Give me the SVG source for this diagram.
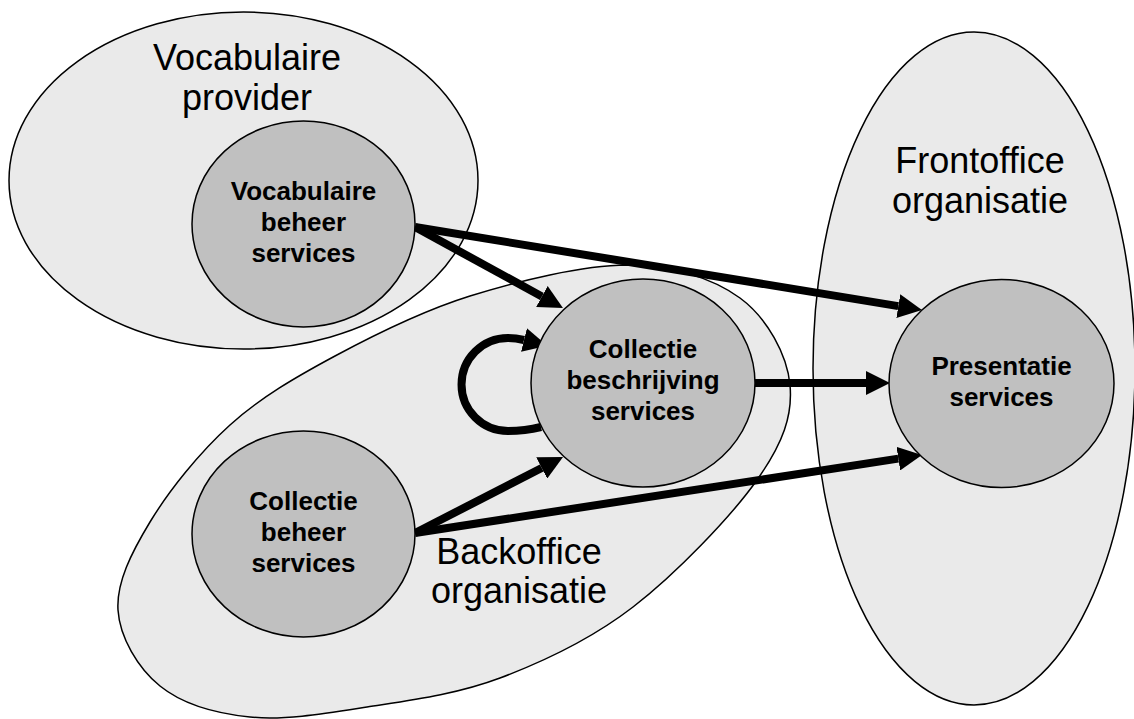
<svg xmlns="http://www.w3.org/2000/svg" width="1134" height="719" viewBox="0 0 1134 719">
  <style>
    .area { fill: #eaeaea; stroke: #000; stroke-width: 1.5; }
    .svc { fill: #c0c0c0; stroke: #000; stroke-width: 1.5; }
    .area-label { font-family: "Liberation Sans", Arial, sans-serif; font-size: 36px; fill: #000; text-anchor: middle; }
    .svc-label { font-family: "Liberation Sans", Arial, sans-serif; font-size: 26px; font-weight: bold; fill: #000; text-anchor: middle; }
    .flow { fill: none; stroke: #000; stroke-width: 8; marker-end: url(#head); }
  </style>
  <defs>
    <marker id="head" markerUnits="userSpaceOnUse" viewBox="0 0 24 24" markerWidth="24" markerHeight="24" refX="0" refY="12" orient="auto">
      <path d="M0,0 L24,12 L0,24 z" fill="#000"/>
    </marker>
  </defs>
  <rect width="1134" height="719" fill="#fff"/>

  <!-- organisation areas -->
  <g id="vocabulaire-provider">
    <ellipse class="area" cx="243.5" cy="180.5" rx="234.5" ry="168.5"/>
    <text class="area-label" x="247" y="70">Vocabulaire</text>
    <text class="area-label" x="247" y="110">provider</text>
  </g>
  <g id="backoffice-organisatie">
    <path class="area" d="M627,265 C672,265.3 712.8,278 740,298 C767.2,318 787.2,354.7 790,385 C792.8,415.3 783.2,443 757,480 C730.8,517 675.8,574 633,607 C590.2,640 544.3,661.3 500,678 C455.7,694.7 408.7,700.5 367,707 C325.3,713.5 284.5,720.5 250,717 C215.5,713.5 182,703.8 160,686 C138,668.2 119.7,637.3 118,610 C116.3,582.7 131.3,552.8 150,522 C168.7,491.2 199.2,452.7 230,425 C260.8,397.3 295,377.5 335,356 C375,334.5 421.3,311.2 470,296 C518.7,280.8 582,265.3 627,265 Z"/>
    <text class="area-label" x="519" y="564">Backoffice</text>
    <text class="area-label" x="519" y="603">organisatie</text>
  </g>
  <g id="frontoffice-organisatie">
    <ellipse class="area" cx="974" cy="368.5" rx="161" ry="336.5"/>
    <text class="area-label" x="980" y="173">Frontoffice</text>
    <text class="area-label" x="980" y="213">organisatie</text>
  </g>

  <!-- service dependencies -->
  <g id="connectors">
    <path class="flow" d="M415,227 L541.9,296.5"/>
    <path class="flow" d="M415,227 L898.3,306.1"/>
    <path class="flow" d="M755,383 L866,383"/>
    <path class="flow" d="M415,533 L541.7,468"/>
    <path class="flow" d="M415,533 L898.3,458.6"/>
    <path class="flow" d="M541,427 Q525,431 508,431 A46.5,46.5 0 0 1 508,338 Q516,338 524,340"/>
  </g>

  <!-- services -->
  <g id="vocabulaire-beheer-services">
    <ellipse class="svc" cx="303.5" cy="224" rx="111.5" ry="103"/>
    <text class="svc-label" x="303.5" y="200">Vocabulaire</text>
    <text class="svc-label" x="303.5" y="231">beheer</text>
    <text class="svc-label" x="303.5" y="262">services</text>
  </g>
  <g id="collectie-beheer-services">
    <ellipse class="svc" cx="303.5" cy="534" rx="111.5" ry="103"/>
    <text class="svc-label" x="303.5" y="510">Collectie</text>
    <text class="svc-label" x="303.5" y="541">beheer</text>
    <text class="svc-label" x="303.5" y="572">services</text>
  </g>
  <g id="collectie-beschrijving-services">
    <ellipse class="svc" cx="643" cy="383" rx="112" ry="104"/>
    <text class="svc-label" x="643" y="358">Collectie</text>
    <text class="svc-label" x="643" y="389">beschrijving</text>
    <text class="svc-label" x="643" y="420">services</text>
  </g>
  <g id="presentatie-services">
    <ellipse class="svc" cx="1001.5" cy="383.5" rx="112.5" ry="104"/>
    <text class="svc-label" x="1001.5" y="375">Presentatie</text>
    <text class="svc-label" x="1001.5" y="406">services</text>
  </g>
</svg>
